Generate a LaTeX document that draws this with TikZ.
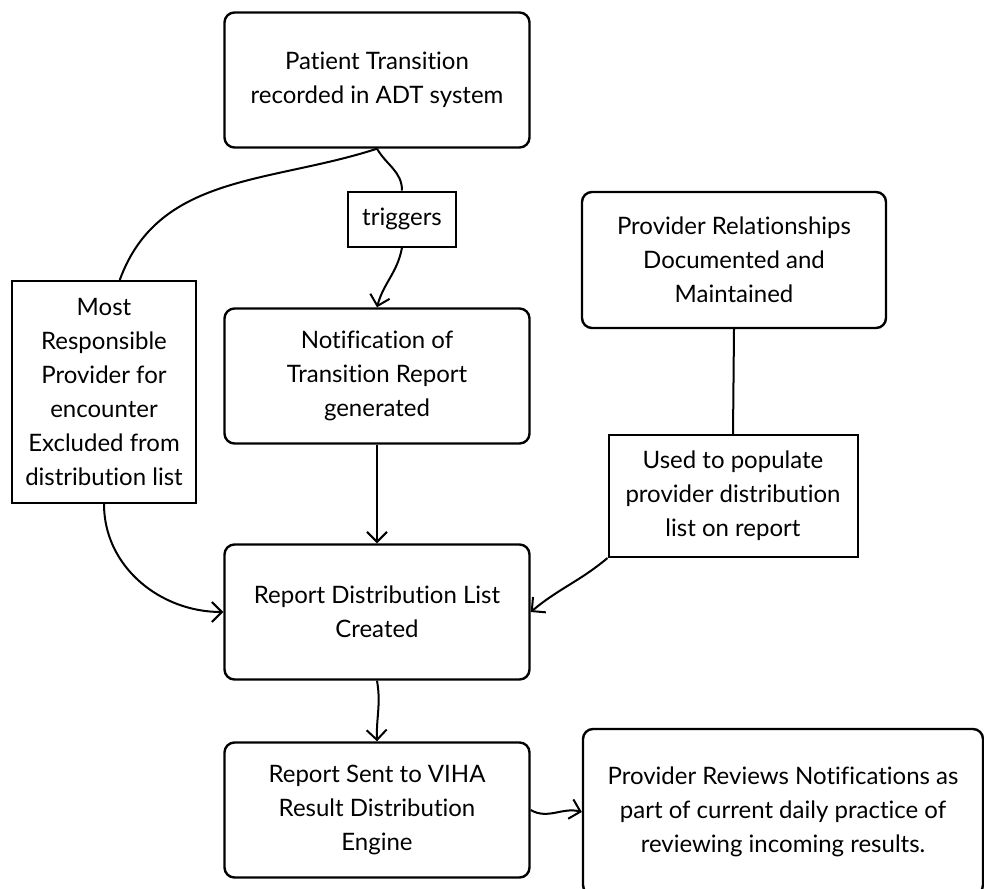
\documentclass[tikz,border=0pt]{standalone}
\usepackage{fontspec}
\setmainfont{Lato}[Ligatures=NoCommon]
\usetikzlibrary{arrows.meta}

\begin{document}
\begin{tikzpicture}[x=0.5pt, y=0.5pt,
      box/.style={draw, line width=1.2pt, rounded corners=5pt, align=center,
         minimum width=152.5pt, minimum height=67.5pt},
      lbl/.style={draw, line width=1pt, fill=white, align=center, inner sep=2pt},
      link/.style={line width=1pt, -{Straight Barb[length=5pt, width=10pt]}},
      plain/.style={line width=1pt},
      font=\fontsize{12}{17}\selectfont]
   \useasboundingbox (0,0) rectangle (984,-888);
   % Process boxes
   \node[box] (adt) at (377,-80) {Patient Transition\\recorded in ADT system};
   \node[box] (note) at (377,-376) {Notification of\\Transition Report\\generated};
   \node[box, minimum width=152pt, minimum height=68pt] (prov) at (734,-260)
      {Provider Relationships\\Documented and\\Maintained};
   \node[box] (dist) at (377,-612) {Report Distribution List\\Created};
   \node[box] (sent) at (377,-810) {Report Sent to VIHA\\Result Distribution\\Engine};
   \node[box, minimum width=200pt, minimum height=83pt] (review) at (783,-812)
      {Provider Reviews Notifications as\\part of current daily practice of\\reviewing incoming results.};
   % Edge labels
   \node[lbl, minimum width=54pt, minimum height=27.5pt] (trig) at (402,-219) {triggers};
   \node[lbl, minimum width=92pt, minimum height=111pt] (most) at (104,-392)
      {Most\\Responsible\\Provider for\\encounter\\Excluded from\\distribution list};
   \node[lbl, minimum width=124.5pt, minimum height=61pt] (used) at (733,-496)
      {Used to populate\\provider distribution\\list on report};
   % Connectors
   \draw[plain] (adt.south) to[out=-60, in=90] (trig.north);
   \draw[link] (trig.south) to[out=-100, in=75] (note.north);
   \draw[plain] (adt.south) to[out=198, in=70] (most.82);
   \draw[link] (most.south) to[out=-90, in=180] (dist.west);
   \draw[link] (note.south) -- (dist.north);
   \draw[plain] (prov.south) -- (used.north);
   \draw[link] (used.south west) to[out=-140, in=40] (dist.east);
   \draw[link] (dist.south) to[out=-80, in=92] (sent.north);
   \draw[link] (sent.east) to[out=-30, in=165] (review.west);
\end{tikzpicture}
\end{document}
